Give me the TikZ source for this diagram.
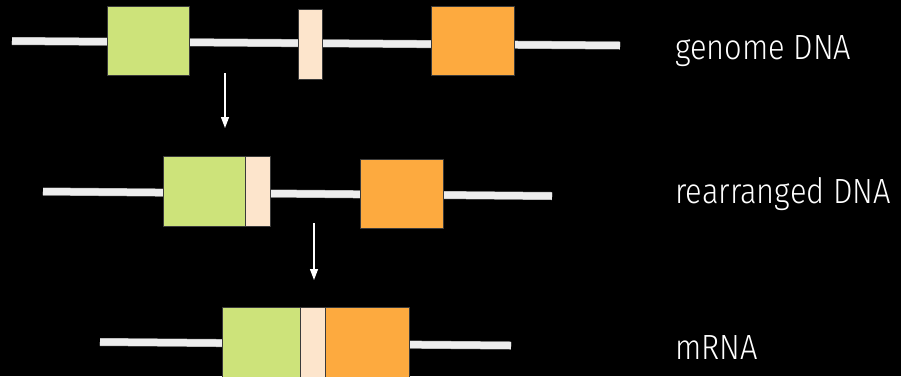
\documentclass[tikz,border=0pt]{standalone}
\usepackage{fontspec}
\setmainfont{Fira Sans Light}
\usetikzlibrary{arrows.meta}
\definecolor{exongreen}{HTML}{CDE37A}
\definecolor{exonpeach}{HTML}{FDE5CC}
\definecolor{exonorange}{HTML}{FDAA3F}
\definecolor{strandgray}{HTML}{EDEDED}
\definecolor{edgegray}{HTML}{3A3A3A}
\begin{document}
\begin{tikzpicture}[x=1pt,y=-1pt,
  strand/.style={draw=gray!70, line width=0.5pt, double=strandgray, double distance=7pt},
  exon/.style={draw=edgegray, line width=1.4pt, inner sep=0pt, anchor=north west},
  stepdown/.style={draw=white, line width=1.3pt, -{Triangle[width=8pt,length=11pt]}},
  label/.style={text=white, anchor=base west, inner sep=0pt, font=\fontsize{35}{40}\selectfont}
]
% background
\fill[black] (0,0) rectangle (901,376);
\useasboundingbox (0,0) rectangle (901,376);

% genome DNA
\coordinate (a1) at (12,41);
\coordinate (b1) at (620,45.5);
\draw[strand] (a1) -- (b1);
\node[exon, fill=exongreen,  minimum width=82pt, minimum height=69pt] (g1) at (107,6) {};
\node[exon, fill=exonpeach,  minimum width=24pt, minimum height=70pt] (p1) at (298,9) {};
\node[exon, fill=exonorange, minimum width=83pt, minimum height=69pt] (o1) at (431,6) {};

% rearranged DNA
\coordinate (a2) at (43,191.5);
\coordinate (b2) at (552,196);
\draw[strand] (a2) -- (b2);
\node[exon, fill=exongreen,  minimum width=82pt, minimum height=70pt] (g2) at (163,156) {};
\node[exon, fill=exonpeach,  minimum width=25pt, minimum height=70pt] (p2) at (245,156) {};
\node[exon, fill=exonorange, minimum width=83pt, minimum height=69pt] (o2) at (360,159) {};

% mRNA
\coordinate (a3) at (100,342);
\coordinate (b3) at (511,345.5);
\draw[strand] (a3) -- (b3);
\node[exon, fill=exongreen,  minimum width=78pt, minimum height=70pt] (g3) at (222,307) {};
\node[exon, fill=exonpeach,  minimum width=25pt, minimum height=70pt] (p3) at (300,307) {};
\node[exon, fill=exonorange, minimum width=84pt, minimum height=70pt] (o3) at (325,307) {};

% processing steps
\coordinate (s1) at (225,73);
\coordinate (t1) at (225,128);
\coordinate (s2) at (314,223);
\coordinate (t2) at (314,280);
\draw[stepdown] (s1) -- (t1);
\draw[stepdown] (s2) -- (t2);

% labels
\node[label] (l1) at (675,59) {\scalebox{0.88}[1]{genome DNA}};
\node[label] (l2) at (675,203) {\scalebox{0.88}[1]{rearranged DNA}};
\node[label] (l3) at (675,359) {\scalebox{0.88}[1]{mRNA}};
\end{tikzpicture}
\end{document}
